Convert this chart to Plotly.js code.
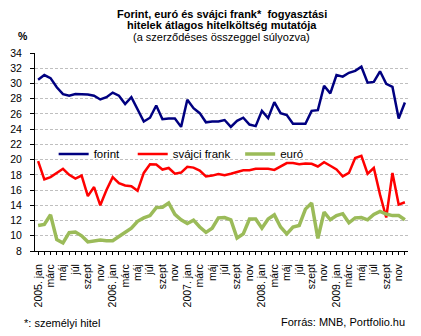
<!DOCTYPE html>
<html><head><meta charset="utf-8">
<script src="https://cdn.plot.ly/plotly-3.0.1.min.js"></script>
<style>html,body{margin:0;padding:0;background:#fff}#chart{width:421px;height:336px}</style>
</head><body><div id="chart"></div>
<script>
const years = [2005, 2006, 2007, 2008, 2009];
const monthNames = ['jan','febr','márc','ápr','máj','jún','júl','aug','szept','okt','nov','dec'];
const categories = [];
const tickLabels = [];
years.forEach(y => monthNames.forEach((m, i) => {
  categories.push(y + '. ' + m);
  tickLabels.push(i === 0 ? y + '. jan' : (i % 2 === 0 ? m : ''));
}));

const forint = [30.5,31.1,30.7,29.5,28.6,28.4,28.6,28.55,28.55,28.4,27.9,28.2,28.8,28.4,27.3,28.2,26.7,25.0,25.5,27.1,25.3,25.4,25.4,24.3,27.85,26.75,26.1,24.9,25.0,25.0,
  25.2,24.3,25.1,25.5,24.6,24.4,26.4,25.45,27.55,26.1,25.85,24.7,24.7,24.7,26.4,26.5,29.7,28.7,31.1,30.9,31.4,31.65,32.2,30.1,30.2,31.6,29.95,29.55,25.4,27.5];
const svajciFrank = [19.8,17.4,17.7,18.25,18.8,18.0,17.5,17.9,15.2,16.4,14.0,16.0,17.7,16.9,16.6,16.5,15.9,18.25,19.4,19.35,18.7,18.9,18.15,18.3,19.05,18.95,18.55,17.8,17.9,18.1,
  17.95,18.15,18.4,18.6,18.6,18.8,18.8,18.8,18.65,19.1,19.55,19.55,19.4,19.5,19.45,19.1,19.65,19.2,18.7,17.8,18.25,20.2,20.5,18.15,18.9,15.4,12.4,18.25,14.1,14.4];
const euro = [11.35,11.5,12.75,9.5,9.05,10.4,10.5,10.0,9.2,9.35,9.45,9.35,9.35,9.9,10.4,11.0,11.9,12.35,12.65,13.7,13.75,14.3,12.8,12.1,11.6,12.05,11.15,10.45,11.0,12.35,
  12.4,12.1,9.7,10.25,12.2,12.2,11.0,12.2,12.75,11.15,10.25,11.15,11.35,13.5,14.3,9.65,13.1,12.1,12.65,12.9,11.7,12.35,12.4,12.1,12.8,13.2,12.85,12.65,12.65,12.1];

const yTicks = [8,10,12,14,16,18,20,22,24,26,28,30,32,34];
const FONT = 'Liberation Sans, Arial, sans-serif';

const traces = [
  {x: categories, y: forint, name: 'forint', type: 'scatter', mode: 'lines', line: {color: '#000080', width: 2.5}, legend: 'legend'},
  {x: categories, y: svajciFrank, name: 'svájci frank', type: 'scatter', mode: 'lines', line: {color: '#ff0000', width: 2.5}, legend: 'legend2'},
  {x: categories, y: euro, name: 'euró', type: 'scatter', mode: 'lines', line: {color: '#9bbb59', width: 3.5}, legend: 'legend3'}
];

const legBase = {orientation: 'h', bgcolor: 'rgba(0,0,0,0)', font: {family: FONT, size: 11.5, color: '#000'}, y: 0.49, yanchor: 'middle', xanchor: 'left'};

const layout = {
  width: 421, height: 336,
  margin: {l: 35, r: 13, t: 53, b: 85},
  paper_bgcolor: '#fff', plot_bgcolor: '#fff',
  font: {family: FONT, size: 10.5, color: '#000'},
  showlegend: true,
  legend: Object.assign({}, legBase, {x: 0.05}),
  legend2: Object.assign({}, legBase, {x: 0.262}),
  legend3: Object.assign({}, legBase, {x: 0.55}),
  xaxis: {
    type: 'category', range: [-0.5, 59.5],
    tickvals: categories, ticktext: tickLabels, tickangle: -90,
    ticks: 'outside', ticklen: 3, tickcolor: '#000', ticklabelstandoff: 5,
    showline: true, linecolor: '#000', linewidth: 1,
    showgrid: false, zeroline: false, fixedrange: true,
    tickfont: {family: FONT, size: 10.5, color: '#000'}
  },
  yaxis: {
    range: [8, 34], tickvals: yTicks,
    ticks: 'outside', ticklen: 4, tickcolor: '#000', ticklabelstandoff: 6,
    showline: true, linecolor: '#000', linewidth: 1,
    showgrid: true, gridcolor: '#bfbfbf', gridwidth: 1, griddash: '3px,2px',
    zeroline: false, fixedrange: true,
    tickfont: {family: FONT, size: 10.5, color: '#000'}
  },
  annotations: [
    {text: '<b>Forint, euró és svájci frank*  fogyasztási</b>', xref: 'paper', yref: 'paper', x: 0.5, y: 1.199, xanchor: 'center', yanchor: 'middle', showarrow: false, borderpad: 0, font: {family: FONT, size: 11}},
    {text: '<b>hitelek átlagos hitelköltség mutatója</b>', xref: 'paper', yref: 'paper', x: 0.5, y: 1.139, xanchor: 'center', yanchor: 'middle', showarrow: false, borderpad: 0, font: {family: FONT, size: 11}},
    {text: '(a szerződéses összeggel súlyozva)', xref: 'paper', yref: 'paper', x: 0.5, y: 1.081, xanchor: 'center', yanchor: 'middle', showarrow: false, borderpad: 0, font: {family: FONT, size: 11}},
    {text: '<b>%</b>', xref: 'paper', yref: 'paper', x: -0.0335, y: 1.088, xanchor: 'center', yanchor: 'middle', showarrow: false, font: {family: FONT, size: 10.5}},
    {text: '*: személyi hitel', xref: 'paper', yref: 'paper', x: -0.0349, y: -0.364, xanchor: 'left', yanchor: 'middle', showarrow: false, font: {family: FONT, size: 11}},
    {text: 'Forrás: MNB, Portfolio.hu', xref: 'paper', yref: 'paper', x: 0.997, y: -0.359, xanchor: 'right', yanchor: 'middle', showarrow: false, font: {family: FONT, size: 11}}
  ]
};

Plotly.newPlot('chart', traces, layout, {displayModeBar: false, staticPlot: true});
</script>
</body></html>
